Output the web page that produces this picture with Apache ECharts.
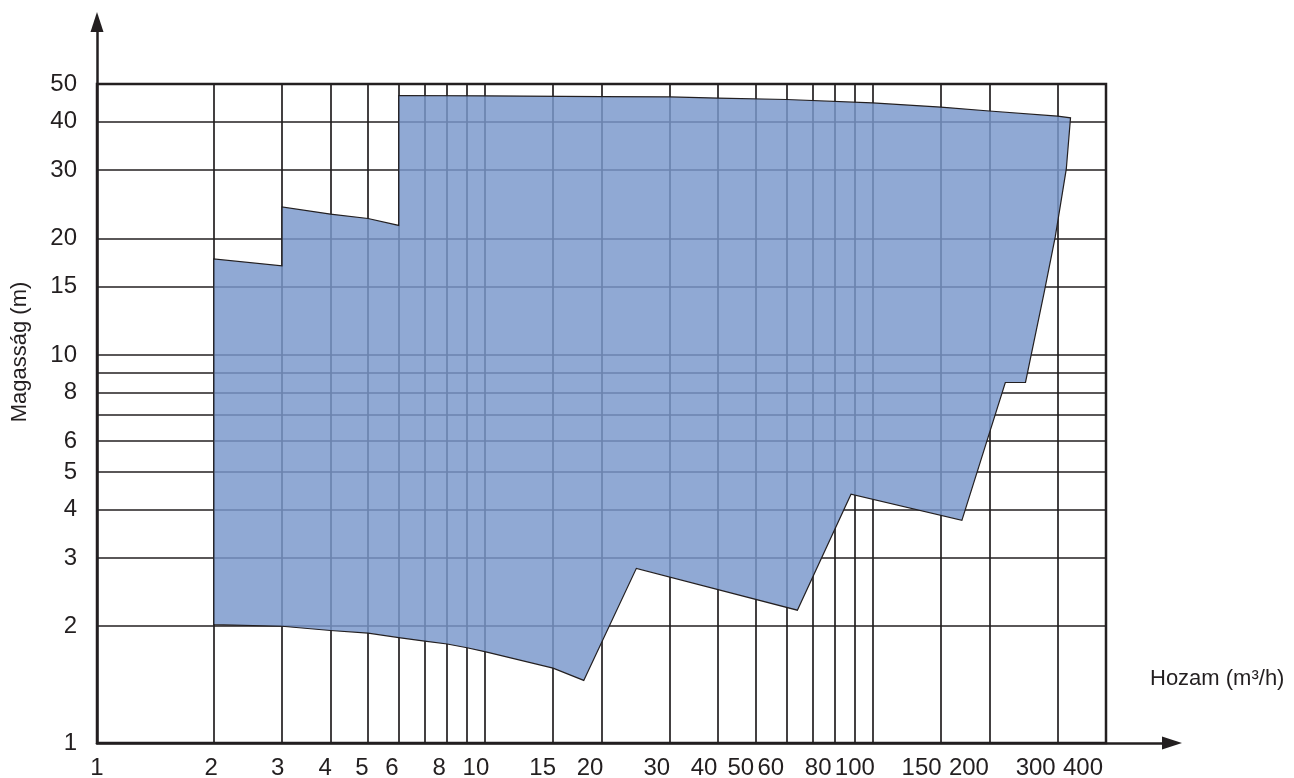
<!DOCTYPE html>
<html>
<head>
<meta charset="utf-8">
<script src="https://cdn.jsdelivr.net/npm/echarts@6/dist/echarts.min.js"></script>
<style>
  html, body { margin: 0; padding: 0; background: #ffffff; }
  #chart { width: 1294px; height: 778px; }
</style>
</head>
<body>
<div id="chart"></div>
<script>
// Operating range polygon (flow Q in m3/h, head H in m), clockwise
const flowQ = [2, 2, 3, 3, 4, 5, 6, 6, 10, 20, 30, 40, 60, 100, 150, 200, 300, 324,
               316, 296, 277, 257, 248, 220, 170, 88, 64, 24.6, 18, 15, 10, 9, 8, 7, 6, 5, 4, 3];
const headH = [2.02, 17.7, 17.0, 24.1, 23.1, 22.5, 21.6, 46.7, 46.6, 46.4, 46.3, 46.0, 45.6, 44.7, 43.6, 42.6, 41.3, 40.9,
               30.2, 20.2, 14.5, 10.1, 8.5, 8.5, 3.75, 4.38, 2.2, 2.82, 1.45, 1.56, 1.72, 1.76, 1.80, 1.83, 1.87, 1.92, 1.95, 2.0];

const xTickLabels = [1, 2, 3, 4, 5, 6, 8, 10, 15, 20, 30, 40, 50, 60, 80, 100, 150, 200, 300, 400];
const yTickLabels = [1, 2, 3, 4, 5, 6, 8, 10, 15, 20, 30, 40, 50];
const xGridValues = [2, 3, 4, 5, 6, 7, 8, 9, 10, 15, 20, 30, 40, 50, 60, 70, 80, 90, 100, 150, 200, 300];
const yGridValues = [2, 3, 4, 5, 6, 7, 8, 9, 10, 15, 20, 30, 40];

const xName = 'Hozam (m³/h)';
const yName = 'Magasság (m)';

const ink = '#231f20';
const font = 'Liberation Sans, Arial, Helvetica, sans-serif';

const chart = echarts.init(document.getElementById('chart'), null, { renderer: 'canvas' });

const polyData = flowQ.map((q, i) => [q, headH[i]]);

const option = {
  animation: false,
  backgroundColor: '#ffffff',
  grid: [
    { left: 97, right: 188, top: 84, bottom: 35, outerBoundsMode: 'none', containLabel: false,
      show: true, borderColor: ink, borderWidth: 2.5, backgroundColor: 'transparent' },
    { left: 97, right: 122, top: 22, bottom: 35, outerBoundsMode: 'none', containLabel: false, show: false }
  ],
  xAxis: [
    {
      type: 'log', gridIndex: 0, min: 1, max: 400, position: 'bottom',
      axisLine: { show: false },
      axisTick: { show: false, customValues: xGridValues },
      axisLabel: { show: false },
      splitLine: { show: true, lineStyle: { color: ink, width: 1.7 } }
    },
    {
      type: 'log', gridIndex: 0, min: 1, max: 460, position: 'bottom',
      axisLine: { show: false },
      axisTick: { show: false },
      splitLine: { show: false },
      axisLabel: {
        show: true, customValues: xTickLabels, margin: 13,
        color: ink, fontSize: 24, fontFamily: font
      }
    },
    {
      type: 'value', gridIndex: 1, min: 0, max: 1, position: 'bottom',
      axisLine: { show: true, onZero: false, symbol: ['none', 'triangle'], symbolSize: [13, 20],
                  lineStyle: { color: ink, width: 2.5 } },
      axisTick: { show: false }, axisLabel: { show: false }, splitLine: { show: false }
    }
  ],
  yAxis: [
    {
      type: 'log', gridIndex: 0, min: 1, max: 50,
      axisLine: { show: false },
      axisTick: { show: false, customValues: yGridValues },
      axisLabel: {
        show: true, customValues: yTickLabels, margin: 20,
        color: ink, fontSize: 24, fontFamily: font
      },
      splitLine: { show: true, lineStyle: { color: ink, width: 1.7 } }
    },
    {
      type: 'value', gridIndex: 1, min: 0, max: 1, position: 'left',
      axisLine: { show: true, onZero: false, symbol: ['none', 'triangle'], symbolSize: [13, 20],
                  lineStyle: { color: ink, width: 2.5 } },
      axisTick: { show: false }, axisLabel: { show: false }, splitLine: { show: false }
    }
  ],
  series: [
    {
      type: 'custom',
      xAxisIndex: 0,
      yAxisIndex: 0,
      data: [polyData[0]],
      renderItem: function (params, api) {
        const pts = polyData.map(function (p) { return api.coord(p); });
        return {
          type: 'polygon',
          shape: { points: pts },
          style: { fill: 'rgba(121,152,203,0.83)', stroke: ink, lineWidth: 1.2 }
        };
      },
      z: 3
    }
  ],
  graphic: [
    {
      type: 'text', left: 1150, top: 668,
      style: { text: xName, fill: ink, fontSize: 22, fontFamily: font }
    },
    {
      type: 'text', x: 20, y: 352, rotation: Math.PI / 2,
      style: { text: yName, fill: ink, fontSize: 22, fontFamily: font, align: 'center', verticalAlign: 'middle' }
    }
  ]
};

chart.setOption(option);
</script>
</body>
</html>
